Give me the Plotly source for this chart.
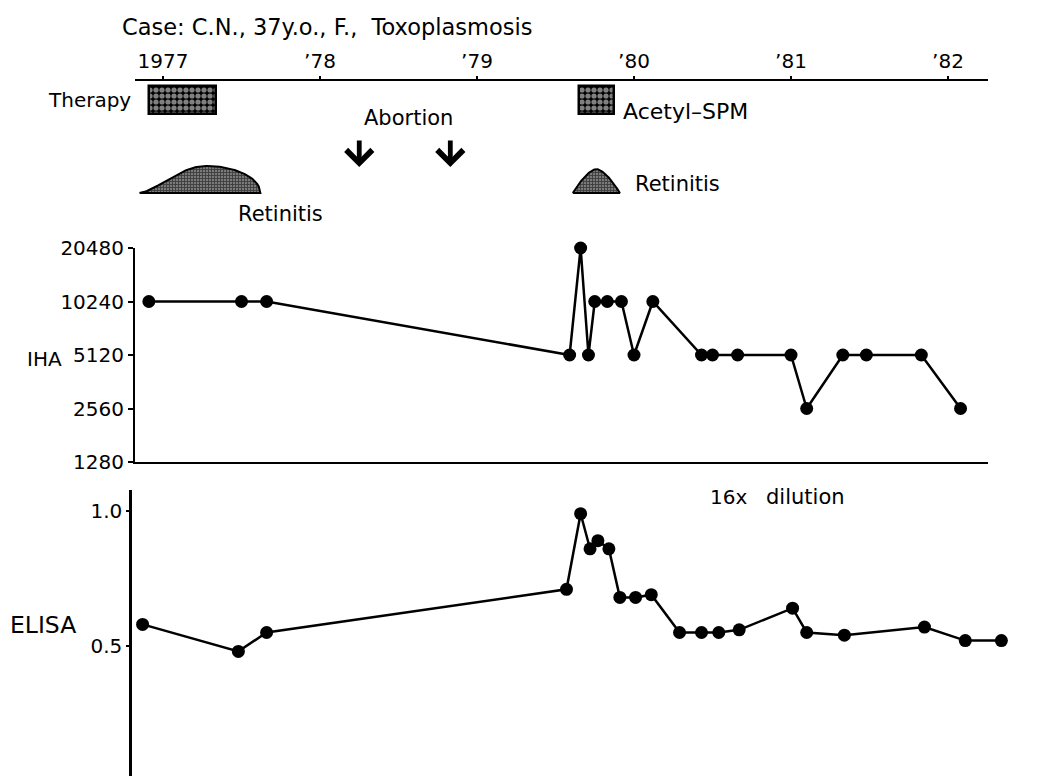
import math
import plotly.graph_objects as go

# ---------------- data ----------------
year_ticks = [1977, 1978, 1979, 1980, 1981, 1982]
year_labels = ["1977", "\u201978", "\u201979", "\u201980", "\u201981", "\u201982"]

iha_dates = [1976.91, 1977.50, 1977.66, 1979.59, 1979.66, 1979.71, 1979.75, 1979.83,
             1979.92, 1980.00, 1980.12, 1980.43, 1980.50, 1980.66, 1981.00, 1981.10,
             1981.33, 1981.48, 1981.83, 1982.08]
iha_titer = [10240, 10240, 10240, 5120, 20480, 5120, 10240, 10240, 10240, 5120, 10240,
             5120, 5120, 5120, 5120, 2560, 5120, 5120, 5120, 2560]
iha_ticks = [1280, 2560, 5120, 10240, 20480]

elisa_dates = [1976.87, 1977.48, 1977.66, 1979.57, 1979.66, 1979.72, 1979.77, 1979.84,
               1979.91, 1980.01, 1980.11, 1980.29, 1980.43, 1980.54, 1980.67, 1981.01,
               1981.10, 1981.34, 1981.85, 1982.11, 1982.34]
elisa_od = [0.58, 0.48, 0.55, 0.71, 0.99, 0.86, 0.89, 0.86, 0.68, 0.68, 0.69, 0.55,
            0.55, 0.55, 0.56, 0.64, 0.55, 0.54, 0.57, 0.52, 0.52]
elisa_ticks = [0.5, 1.0]

therapy_start = [1976.91, 1979.65]
therapy_end = [1977.34, 1979.87]

abortion_dates = [1978.25, 1978.83]

retinitis_start = [1976.85, 1979.61]
retinitis_end = [1977.62, 1979.91]

# ---------------- layout helpers ----------------
W, H = 1049, 776
PX0, PXPY = 163.0, 157.0           # pixel of 1977, pixels per year
def yr_at(px):
    return 1977 + (px - PX0) / PXPY
def xp(px):
    return px / W
def yp(py):
    return 1 - py / H

FONT = "DejaVu Sans"
INK = "black"

fig = go.Figure()

# therapy boxes
fig.add_trace(go.Bar(
    y=[100] * len(therapy_start),
    x=[e - s for s, e in zip(therapy_start, therapy_end)],
    base=therapy_start, width=[28] * len(therapy_start), orientation="h",
    marker=dict(color="black",
                pattern=dict(shape=".", fgcolor="white", bgcolor="black", size=6, solidity=0.6),
                line=dict(color="black", width=2.5)),
    xaxis="x", yaxis="y", showlegend=False, hoverinfo="skip"))

# retinitis episodes (dome glyphs)
kinds = ["skew", "peak"]
heights = [27, 24]
for s, e, kind, hgt in zip(retinitis_start, retinitis_end, kinds, heights):
    xs, ys = [], []
    n = 80
    tp = 0.55
    for i in range(n + 1):
        t = i / n
        if kind == "skew":
            if t <= tp:
                h = math.sin(math.pi / 2 * t / tp) ** 1.5
            else:
                u = (t - tp) / (1 - tp)
                h = math.sqrt(max(0.0, 1 - u * u))
        else:
            h = 1 - abs(2 * t - 1) ** 1.6
        xs.append(s + (e - s) * t)
        ys.append(193 - hgt * h)
    xs.append(s); ys.append(193)
    fig.add_trace(go.Scatter(
        x=xs, y=ys, mode="lines", fill="toself",
        fillcolor="#444444",
        fillpattern=dict(shape="+", fgcolor="black", bgcolor="#7a7a7a", size=3, solidity=0.5),
        line=dict(color="black", width=2),
        xaxis="x", yaxis="y", showlegend=False, hoverinfo="skip"))

# IHA
fig.add_trace(go.Scatter(
    x=iha_dates, y=iha_titer, mode="lines+markers",
    line=dict(color=INK, width=2.5), marker=dict(color=INK, size=13),
    xaxis="x2", yaxis="y2", showlegend=False, cliponaxis=False))

# ELISA
fig.add_trace(go.Scatter(
    x=elisa_dates, y=elisa_od, mode="lines+markers",
    line=dict(color=INK, width=2.5), marker=dict(color=INK, size=13),
    xaxis="x3", yaxis="y3", showlegend=False, cliponaxis=False))

# annotations
ann = []
def text(t, x, y, xa="left", size=20):
    ann.append(dict(text=t, x=xp(x), y=yp(y), xref="paper", yref="paper",
                    xanchor=xa, yanchor="middle", showarrow=False,
                    font=dict(family=FONT, size=size, color=INK)))

text("Case: C.N., 37y.o., F.,\u00a0\u00a0Toxoplasmosis", 120, 27, size=22.5)
text("Therapy", 133, 100)
ann[-1]["xanchor"] = "right"
text("Acetyl\u2013SPM", 621, 112, size=22)
text("Abortion", 408, 118, xa="center", size=21)
text("Retinitis", 236, 214, size=21)
text("Retinitis", 633, 184, size=21)
text("IHA", 25, 359)
text("ELISA", 8, 625, size=23.5)
text("16x", 708, 497)
text("dilution", 764, 497, size=21)

for d in abortion_dates:
    ann.append(dict(x=d, y=167, xref="x", yref="y", ax=0, ay=-28, axref="pixel", ayref="pixel",
                    showarrow=True, arrowhead=4, arrowsize=1.05, arrowwidth=4.8,
                    arrowcolor=INK, text=""))

x_left, x_right = 135, 988
fig.update_layout(
    width=W, height=H, margin=dict(l=0, r=0, t=0, b=0, pad=0, autoexpand=False),
    paper_bgcolor="white", plot_bgcolor="white",
    font=dict(family=FONT, color=INK, size=20),
    bargap=0,
    annotations=ann,
    xaxis=dict(domain=[xp(x_left), xp(x_right)], range=[yr_at(x_left), yr_at(x_right)],
               anchor="y", side="top", showline=True, linecolor=INK, linewidth=2,
               showgrid=False, zeroline=False, ticks="outside", ticklen=3, tickwidth=1.5,
               tickcolor=INK, tickvals=year_ticks, ticktext=year_labels, automargin=False,
               tickfont=dict(family=FONT, size=20, color=INK)),
    yaxis=dict(domain=[yp(200), yp(81)], range=[200, 81], visible=False, automargin=False),
    xaxis2=dict(domain=[xp(x_left), xp(x_right)], range=[yr_at(x_left), yr_at(x_right)],
                anchor="y2", showline=True, linecolor=INK, linewidth=2, showgrid=False,
                zeroline=False, showticklabels=False, ticks="", automargin=False),
    yaxis2=dict(domain=[yp(462), yp(248)], type="log",
                range=[math.log10(1280), math.log10(20480)], anchor="x2",
                showline=True, linecolor=INK, linewidth=2, showgrid=False, zeroline=False,
                ticks="outside", ticklen=5, tickwidth=2, tickcolor=INK, automargin=False,
                tickvals=iha_ticks, ticktext=[str(v) for v in iha_ticks],
                tickfont=dict(family=FONT, size=20, color=INK)),
    xaxis3=dict(domain=[xp(132), 1.0], range=[yr_at(132), yr_at(W)], anchor="y3",
                visible=False, automargin=False),
    yaxis3=dict(domain=[0, yp(490)], range=[0.5 - 130 / 270, 0.5 + 156 / 270], anchor="x3",
                showline=True, linecolor=INK, linewidth=2.5, showgrid=False, zeroline=False,
                ticks="outside", ticklen=3, tickwidth=2, tickcolor=INK, automargin=False,
                tickvals=elisa_ticks, ticktext=["0.5", "1.0"],
                tickfont=dict(family=FONT, size=20, color=INK)),
)

fig.write_html("out.html")
